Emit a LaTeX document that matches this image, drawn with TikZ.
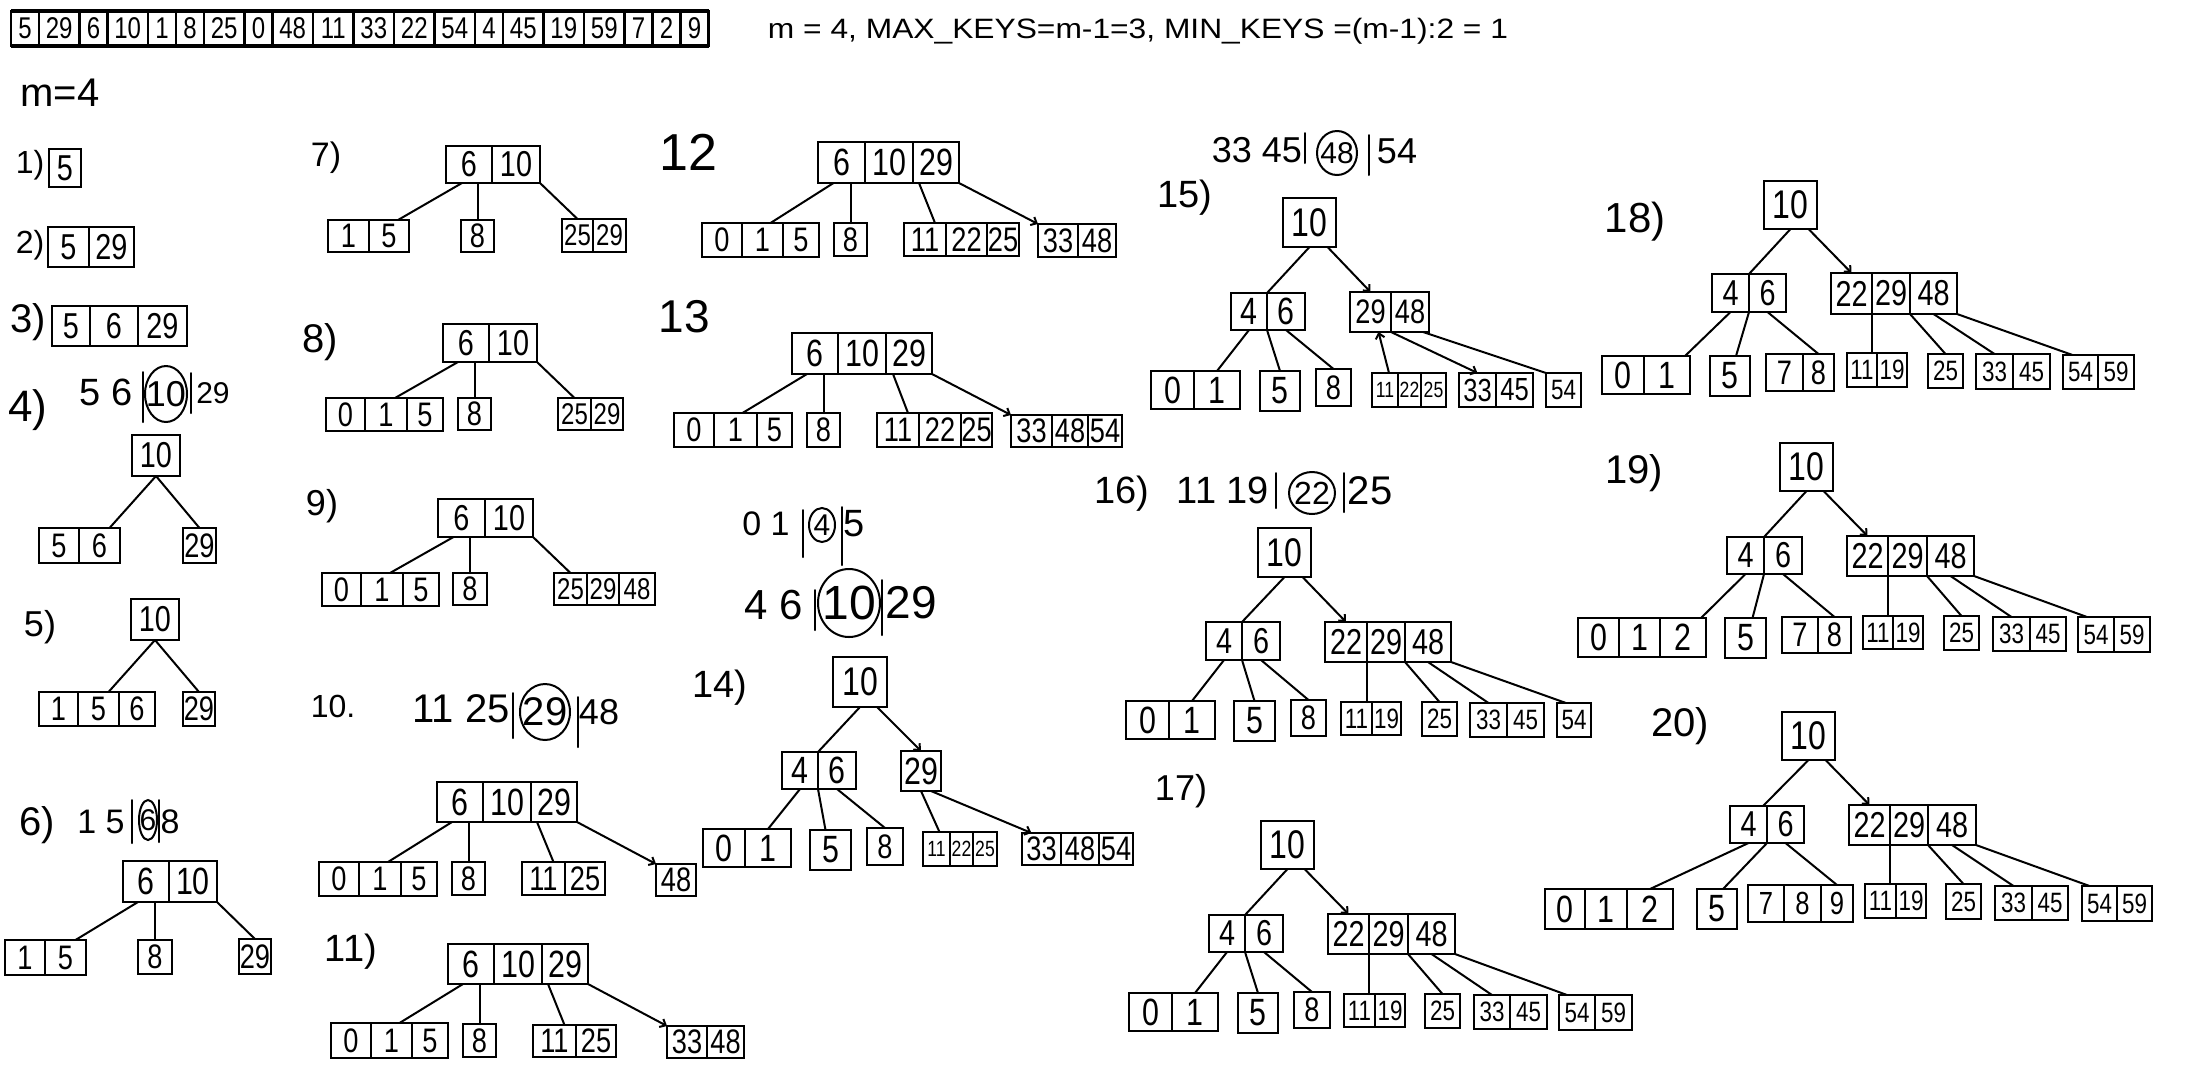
\documentclass[tikz,border=0pt]{standalone}
\usepackage{fontspec}
\setmainfont{Liberation Sans}
\usepackage{graphicx}
\usetikzlibrary{arrows.meta}
\newcommand\fsz[1]{\fontsize{#1}{#1}\selectfont}
\newcommand\sq[1]{\scalebox{0.8}[1]{#1}}
\tikzset{
  cell/.style={draw, line width=2.2pt, inner sep=0pt, outer sep=0pt, anchor=center},
  edge/.style={line width=2pt, line cap=round, line join=round},
  edgea/.style={edge, -{Straight Barb[length=5pt,width=9pt]}},
  bar/.style={line width=2pt, line cap=round},
  ann/.style={inner sep=0pt},
  lbl/.style={inner sep=0pt},
}
\newcommand\bn[5][34]{%
  \foreach \xa/\xb/\kv [count=\ci] in {#5}{%
    \node[cell,font=\fsz{#1},minimum width={(\xb-\xa)*1pt},minimum height={(#4-#3)*1pt}] (#2-\ci) at ({(\xa+\xb)/2},{(#3+#4)/2}) {\sq{\kv}};
  }}
\begin{document}
\begin{tikzpicture}[x=1pt,y=-1pt]
\fill[white] (0,0) rectangle (2200,1080);
\useasboundingbox (0,0) rectangle (2200,1080);

% header
\bn[30]{arr}{11}{46}{11/39/5,39/79.5/29,79.5/107.5/6,107.5/148/10,148/176/1,176/204/8,204/244.5/25,244.5/272.5/0,272.5/313/48,313/353.5/11,353.5/394/33,394/434.5/22,434.5/475/54,475/503/4,503/543.5/45,543.5/584/19,584/624.5/59,624.5/652.5/7,652.5/680.5/2,680.5/708.5/9}
\draw[line width=4pt] (arr-1.north west) -- (arr-20.north east);
\draw[line width=4pt] (arr-1.south west) -- (arr-20.south east);
\node[lbl,font=\fsz{28}] (hdr) at (1138,31) {\resizebox{740pt}{\height}{m = 4, MAX\_KEYS=m-1=3, MIN\_KEYS =(m-1):2 = 1}};
\node[lbl,font=\fsz{40}] (mlbl) at (60,93) {m=4};

% step labels
\node[lbl,font=\fsz{32}] (l1) at (30,165) {1)};
\node[lbl,font=\fsz{32}] (l2) at (30,245) {2)};
\node[lbl,font=\fsz{40}] (l3) at (28,322) {3)};
\node[lbl,font=\fsz{44}] (l4) at (28,410) {4)};
\node[lbl,font=\fsz{36}] (l5) at (40,627) {5)};
\node[lbl,font=\fsz{40}] (l6) at (37,825) {6)};
\node[lbl,font=\fsz{34}] (l7) at (326,158) {7)};
\node[lbl,font=\fsz{40}] (l8) at (320,342) {8)};
\node[lbl,font=\fsz{36}] (l9) at (322,506) {9)};
\node[lbl,font=\fsz{32}] (l10) at (333,706) {10.};
\node[lbl,font=\fsz{38}] (l11) at (351,952) {11)};
\node[lbl,font=\fsz{52}] (l12) at (688,152) {12};
\node[lbl,font=\fsz{46}] (l13) at (684,317) {13};
\node[lbl,font=\fsz{38}] (l14) at (720,688) {14)};
\node[lbl,font=\fsz{38}] (l15) at (1185,198) {15)};
\node[lbl,font=\fsz{38}] (l16) at (1122,494) {16)};
\node[lbl,font=\fsz{36}] (l17) at (1181,791) {17)};
\node[lbl,font=\fsz{42}] (l18) at (1635,222) {18)};
\node[lbl,font=\fsz{40}] (l19) at (1634,473) {19)};
\node[lbl,font=\fsz{40}] (l20) at (1680,726) {20)};

% annotations
\node[ann,font=\fsz{38}] (a4l) at (106,392) {5 6};
\node[ann,font=\fsz{36}] (a4c) at (166,394) {10};
\node[ann,font=\fsz{30}] (a4r) at (213,393) {29};
\draw[bar] (a4c.center) ellipse [x radius=21pt, y radius=28pt];
\draw[bar] ([xshift=-23pt,yshift=22pt]a4c.center) -- ([xshift=-23pt,yshift=-28pt]a4c.center);
\draw[bar] ([xshift=25pt,yshift=21pt]a4c.center) -- ([xshift=25pt,yshift=-19pt]a4c.center);

\node[ann,font=\fsz{34}] (a6l) at (101,822) {1 5};
\node[ann,font=\fsz{30}] (a6c) at (148,820) {6};
\node[ann,font=\fsz{34}] (a6r) at (170,822) {8};
\draw[bar] (a6c.center) ellipse [x radius=9pt, y radius=20pt];
\draw[bar] ([xshift=-16pt,yshift=20pt]a6c.center) -- ([xshift=-16pt,yshift=-23pt]a6c.center);
\draw[bar] ([xshift=11pt,yshift=20pt]a6c.center) -- ([xshift=11pt,yshift=-22pt]a6c.center);

\node[ann,font=\fsz{40}] (a10l) at (461,709) {11 25};
\node[ann,font=\fsz{40}] (a10c) at (545,712) {29};
\node[ann,font=\fsz{36}] (a10r) at (599,712) {48};
\draw[bar] (a10c.center) ellipse [x radius=25pt, y radius=28pt];
\draw[bar] ([xshift=-32pt,yshift=19pt]a10c.center) -- ([xshift=-32pt,yshift=-26pt]a10c.center);
\draw[bar] ([xshift=33pt,yshift=15pt]a10c.center) -- ([xshift=33pt,yshift=-35pt]a10c.center);

\node[ann,font=\fsz{34}] (a14al) at (766,524) {0 1};
\node[ann,font=\fsz{30}] (a14ac) at (822,525) {4};
\node[ann,font=\fsz{38}] (a14ar) at (854,524) {5};
\draw[bar] (a14ac.center) ellipse [x radius=13pt, y radius=17pt];
\draw[bar] ([xshift=-19pt,yshift=15pt]a14ac.center) -- ([xshift=-19pt,yshift=-32pt]a14ac.center);
\draw[bar] ([xshift=20pt,yshift=18pt]a14ac.center) -- ([xshift=20pt,yshift=-40pt]a14ac.center);

\node[ann,font=\fsz{42}] (a14bl) at (774,605) {4 6};
\node[ann,font=\fsz{48}] (a14bc) at (849,603) {10};
\node[ann,font=\fsz{46}] (a14br) at (911,603) {29};
\draw[bar] (a14bc.center) ellipse [x radius=31pt, y radius=34pt];
\draw[bar] ([xshift=-34pt,yshift=13pt]a14bc.center) -- ([xshift=-34pt,yshift=-27pt]a14bc.center);
\draw[bar] ([xshift=33pt,yshift=23pt]a14bc.center) -- ([xshift=33pt,yshift=-32pt]a14bc.center);

\node[ann,font=\fsz{36}] (a15l) at (1257,150) {33 45};
\node[ann,font=\fsz{30}] (a15c) at (1337,153) {48};
\node[ann,font=\fsz{36}] (a15r) at (1397,151) {54};
\draw[bar] (a15c.center) ellipse [x radius=20pt, y radius=22pt];
\draw[bar] ([xshift=-32pt,yshift=20pt]a15c.center) -- ([xshift=-32pt,yshift=-10pt]a15c.center);
\draw[bar] ([xshift=32pt,yshift=18pt]a15c.center) -- ([xshift=32pt,yshift=-22pt]a15c.center);

\node[ann,font=\fsz{38}] (a16l) at (1223,490) {11 19};
\node[ann,font=\fsz{32}] (a16c) at (1312,493) {22};
\node[ann,font=\fsz{40}] (a16r) at (1370,491) {25};
\draw[bar] (a16c.center) ellipse [x radius=23pt, y radius=21pt];
\draw[bar] ([xshift=-36pt,yshift=20pt]a16c.center) -- ([xshift=-36pt,yshift=-15pt]a16c.center);
\draw[bar] ([xshift=32pt,yshift=20pt]a16c.center) -- ([xshift=32pt,yshift=-19pt]a16c.center);

% steps 1-3
\bn[36]{s1}{149}{187}{49/81/5}
\bn[36]{s2}{227}{267}{48/89/5,89/134/29}
\bn[36]{s3}{306}{346}{52/90/5,90/138/6,138/187/29}
% 4
\bn[36]{s4r}{435}{476}{132/180/10}
\bn{s4a}{528}{563}{39/79/5,79/120/6}
\bn{s4b}{528}{563}{183/216/29}
\draw[edge] (s4r-1.south) -- ([xshift=10pt]s4a-2.north);
\draw[edge] (s4r-1.south) -- (s4b-1.north);
% 5
\bn[36]{s5r}{599}{640}{131/179/10}
\bn{s5a}{692}{726}{39/78/1,78/119/5,119/155/6}
\bn{s5b}{692}{726}{183/215/29}
\draw[edge] (s5r-1.south) -- ([xshift=10pt]s5a-2.north);
\draw[edge] (s5r-1.south) -- (s5b-1.north);
% 6
\bn[38]{s6r}{861}{902}{123/169/6,169/217/10}
\bn{s6a}{940}{975}{5/45/1,45/86/5}
\bn{s6b}{940}{974}{138/172/8}
\bn{s6c}{939}{974}{239/271/29}
\draw[edge] ([xshift=-8pt]s6r-1.south) -- ([xshift=10pt]s6a-2.north);
\draw[edge] (s6b-1.north |- s6r-1.south) -- (s6b-1.north);
\draw[edge] (s6r-2.south east) -- (s6c-1.north);
% 7
\bn[36]{s7r}{146}{183}{446/492/6,492/540/10}
\bn{s7a}{220}{252}{328/369/1,369/409/5}
\bn{s7b}{220}{252}{461/494/8}
\bn[30]{s7c}{219}{252}{562/593/25,593/626/29}
\draw[edge] ([xshift=-7pt]s7r-1.south) -- ([xshift=9pt]s7a-2.north);
\draw[edge] (s7b-1.north |- s7r-1.south) -- (s7b-1.north);
\draw[edge] (s7r-2.south east) -- (s7c-1.north);
% 8
\bn[36]{s8r}{324}{362}{443/489/6,489/537/10}
\bn{s8a}{398}{431}{326/365/0,365/407/1,407/443/5}
\bn{s8b}{398}{430}{458/491/8}
\bn[30]{s8c}{398}{430}{558/591/25,591/623/29}
\draw[edge] ([xshift=-8pt]s8r-1.south) -- ([xshift=9pt]s8a-2.north);
\draw[edge] (s8b-1.north |- s8r-1.south) -- (s8b-1.north);
\draw[edge] (s8r-2.south east) -- (s8c-1.north);
% 9
\bn[36]{s9r}{499}{537}{438/485/6,485/533/10}
\bn{s9a}{573}{606}{322/361/0,361/403/1,403/439/5}
\bn{s9b}{573}{605}{453/487/8}
\bn[30]{s9c}{573}{605}{554/587/25,587/619/29,619/655/48}
\draw[edge] ([xshift=-8pt]s9r-1.south) -- ([xshift=8pt]s9a-2.north);
\draw[edge] (s9b-1.north |- s9r-1.south) -- (s9b-1.north);
\draw[edge] (s9r-2.south east) -- (s9c-1.north);
% 10
\bn[38]{s10r}{782}{822}{437/483/6,483/531/10,531/577/29}
\bn{s10a}{862}{896}{319/359/0,359/401/1,401/437/5}
\bn{s10b}{862}{895}{452/485/8}
\bn{s10c}{862}{895}{522/565/11,565/605/25}
\bn{s10d}{864}{896}{656/696/48}
\draw[edge] ([xshift=-8pt]s10r-1.south) -- ([xshift=8pt]s10a-2.north);
\draw[edge] (s10b-1.north |- s10r-1.south) -- (s10b-1.north);
\draw[edge] ([xshift=6pt]s10r-3.south west) -- ([xshift=10pt]s10c-1.north);
\draw[edgea] (s10r-3.south east) -- (s10d-1.north west);
% 11
\bn[38]{s11r}{944}{984}{448/494/6,494/542/10,542/588/29}
\bn{s11a}{1023}{1058}{331/371/0,371/412/1,412/448/5}
\bn{s11b}{1024}{1057}{463/496/8}
\bn{s11c}{1025}{1057}{533/576/11,576/616/25}
\bn{s11d}{1026}{1058}{667/707/33,707/744/48}
\draw[edge] ([xshift=-8pt]s11r-1.south) -- ([xshift=8pt]s11a-2.north);
\draw[edge] (s11b-1.north |- s11r-1.south) -- (s11b-1.north);
\draw[edge] ([xshift=6pt]s11r-3.south west) -- ([xshift=10pt]s11c-1.north);
\draw[edgea] (s11r-3.south east) -- (s11d-1.north west);
% 12
\bn[38]{s12r}{142}{183}{818/865/6,865/913/10,913/959/29}
\bn{s12a}{223}{257}{702/742/0,742/783/1,783/819/5}
\bn{s12b}{223}{256}{834/867/8}
\bn{s12c}{223}{256}{904/946/11,946/987/22,987/1019/25}
\bn{s12d}{224}{257}{1038/1078/33,1078/1116/48}
\draw[edge] ([xshift=-8pt]s12r-1.south) -- ([xshift=8pt]s12a-2.north);
\draw[edge] (s12b-1.north |- s12r-1.south) -- (s12b-1.north);
\draw[edge] ([xshift=6pt]s12r-3.south west) -- ([xshift=10pt]s12c-1.north);
\draw[edgea] (s12r-3.south east) -- (s12d-1.north west);
% 13
\bn[38]{s13r}{333}{374}{792/838/6,838/886/10,886/932/29}
\bn{s13a}{413}{447}{674/714/0,714/757/1,757/792/5}
\bn{s13b}{413}{447}{807/840/8}
\bn{s13c}{413}{447}{877/919/11,919/961/22,961/992/25}
\bn{s13d}{415}{447}{1011/1052/33,1052/1088/48,1088/1122/54}
\draw[edge] ([xshift=-8pt]s13r-1.south) -- ([xshift=7pt]s13a-2.north);
\draw[edge] (s13b-1.north |- s13r-1.south) -- (s13b-1.north);
\draw[edge] ([xshift=7pt]s13r-3.south west) -- ([xshift=10pt]s13c-1.north);
\draw[edgea] (s13r-3.south east) -- (s13d-1.north west);
% 14
\bn[40]{s14r}{657}{707}{833/887/10}
\bn[38]{s14a}{752}{789}{782/818/4,818/856/6}
\bn[38]{s14b}{751}{791}{901/941/29}
\bn[38]{s14c}{829}{867}{703/745/0,745/791/1}
\bn[38]{s14d}{830}{870}{810/851/5}
\bn{s14e}{828}{865}{867/903/8}
\bn[22]{s14f}{832}{866}{923/950/11,950/973/22,973/997/25}
\bn{s14g}{833}{865}{1022/1061/33,1061/1099/48,1099/1133/54}
\draw[edge] (s14r-1.south) -- (s14a-1.north east);
\draw[edgea] ([xshift=-10pt]s14r-1.south east) -- (s14b-1.north);
\draw[edge] (s14a-1.south) -- (s14c-2.north);
\draw[edge] (s14a-1.south east) -- ([xshift=-5pt]s14d-1.north);
\draw[edge] (s14a-2.south) -- (s14e-1.north);
\draw[edge] (s14b-1.south) -- ([xshift=3pt]s14f-1.north);
\draw[edgea] ([xshift=10pt]s14b-1.south) -- ([xshift=-10pt]s14g-1.north);
% 15
\bn[40]{s15r}{198}{247}{1283/1336/10}
\bn[38]{s15a}{293}{330}{1231/1267/4,1267/1305/6}
\bn[34]{s15b}{292}{332}{1350/1391/29,1391/1429/48}
\bn[38]{s15c}{371}{409}{1151/1194/0,1194/1240/1}
\bn[38]{s15d}{371}{411}{1260/1300/5}
\bn{s15e}{369}{406}{1316/1351/8}
\bn[22]{s15f}{373}{407}{1372/1398/11,1398/1421/22,1421/1446/25}
\bn[32]{s15g}{373}{407}{1459/1496/33,1496/1533/45}
\bn[28]{s15h}{373}{407}{1546/1581/54}
\draw[edge] (s15r-1.south) -- (s15a-1.north east);
\draw[edgea] ([xshift=18pt]s15r-1.south) -- (s15b-1.north);
\draw[edge] (s15a-1.south) -- (s15c-2.north);
\draw[edge] (s15a-1.south east) -- (s15d-1.north);
\draw[edge] (s15a-2.south) -- (s15e-1.north);
\draw[edgea] ([xshift=4pt]s15f-1.north) -- ([xshift=8pt]s15b-1.south);
\draw[edgea] (s15b-1.south east) -- (s15g-1.north);
\draw[edge] ([xshift=-6pt]s15b-2.south east) -- (s15h-1.north west);
% 16
\bn[40]{s16r}{528}{577}{1258/1311/10}
\bn[36]{s16a}{622}{660}{1206/1242/4,1242/1280/6}
\bn[36]{s16b}{622}{662}{1325/1367/22,1367/1405/29,1405/1451/48}
\bn[38]{s16c}{701}{739}{1126/1169/0,1169/1215/1}
\bn[38]{s16d}{701}{741}{1234/1275/5}
\bn{s16e}{700}{736}{1291/1326/8}
\bn[28]{s16f}{702}{735}{1341/1372/11,1372/1401/19}
\bn[28]{s16g}{702}{736}{1422/1457/25}
\bn[28]{s16h}{703}{737}{1470/1507/33,1507/1544/45}
\bn[28]{s16i}{703}{737}{1557/1591/54}
\draw[edge] (s16r-1.south) -- (s16a-1.north east);
\draw[edgea] ([xshift=18pt]s16r-1.south) -- (s16b-1.north);
\draw[edge] (s16a-1.south) -- (s16c-2.north);
\draw[edge] (s16a-1.south east) -- (s16d-1.north);
\draw[edge] (s16a-2.south) -- (s16e-1.north);
\draw[edge] (s16b-1.south east) -- (s16b-1.south east |- s16f-1.north);
\draw[edge] (s16b-2.south east) -- (s16g-1.north);
\draw[edge] (s16b-3.south) -- (s16h-1.north);
\draw[edge] (s16b-3.south east) -- ([xshift=-8pt]s16i-1.north);
% 17
\bn[40]{s17r}{821}{869}{1261/1314/10}
\bn[36]{s17a}{915}{952}{1209/1245/4,1245/1283/6}
\bn[36]{s17b}{914}{954}{1328/1369/22,1369/1408/29,1408/1455/48}
\bn[38]{s17c}{993}{1031}{1129/1172/0,1172/1218/1}
\bn[38]{s17d}{993}{1033}{1238/1278/5}
\bn{s17e}{992}{1028}{1294/1330/8}
\bn[28]{s17f}{994}{1027}{1344/1375/11,1375/1405/19}
\bn[28]{s17g}{994}{1028}{1425/1460/25}
\bn[28]{s17h}{995}{1029}{1474/1510/33,1510/1547/45}
\bn[28]{s17i}{995}{1030}{1559/1595/54,1595/1632/59}
\draw[edge] (s17r-1.south) -- (s17a-1.north east);
\draw[edgea] ([xshift=17pt]s17r-1.south) -- (s17b-1.north);
\draw[edge] (s17a-1.south) -- (s17c-2.north);
\draw[edge] (s17a-1.south east) -- (s17d-1.north);
\draw[edge] (s17a-2.south) -- (s17e-1.north);
\draw[edge] (s17b-1.south east) -- (s17b-1.south east |- s17f-1.north);
\draw[edge] (s17b-2.south east) -- (s17g-1.north);
\draw[edge] (s17b-3.south) -- (s17h-1.north);
\draw[edge] (s17b-3.south east) -- ([xshift=-10pt]s17i-1.north);
% 18
\bn[40]{s18r}{181}{229}{1764/1817/10}
\bn[36]{s18a}{274}{312}{1712/1749/4,1749/1786/6}
\bn[36]{s18b}{273}{314}{1831/1872/22,1872/1910/29,1910/1957/48}
\bn[38]{s18c}{356}{394}{1602/1644/0,1644/1690/1}
\bn[38]{s18d}{356}{396}{1710/1750/5}
\bn[34]{s18e}{354}{391}{1766/1803/7,1803/1834/8}
\bn[28]{s18f}{353}{387}{1847/1877/11,1877/1907/19}
\bn[28]{s18g}{354}{388}{1928/1963/25}
\bn[28]{s18h}{354}{389}{1976/2013/33,2013/2050/45}
\bn[28]{s18i}{355}{389}{2063/2098/54,2098/2134/59}
\draw[edge] (s18r-1.south) -- (s18a-1.north east);
\draw[edgea] ([xshift=18pt]s18r-1.south) -- (s18b-1.north);
\draw[edge] (s18a-1.south) -- ([xshift=-5pt]s18c-2.north east);
\draw[edge] (s18a-1.south east) -- ([xshift=6pt]s18d-1.north);
\draw[edge] (s18a-2.south) -- (s18e-2.north);
\draw[edge] (s18b-1.south east) -- (s18b-1.south east |- s18f-1.north);
\draw[edge] (s18b-2.south east) -- (s18g-1.north);
\draw[edge] (s18b-3.south) -- (s18h-1.north);
\draw[edge] (s18b-3.south east) -- ([xshift=-8pt]s18i-1.north);
% 19
\bn[40]{s19r}{443}{491}{1780/1833/10}
\bn[36]{s19a}{537}{574}{1727/1764/4,1764/1802/6}
\bn[36]{s19b}{536}{576}{1847/1888/22,1888/1927/29,1927/1974/48}
\bn[38]{s19c}{618}{657}{1578/1619/0,1619/1660/1,1660/1706/2}
\bn[38]{s19d}{618}{658}{1725/1766/5}
\bn[34]{s19e}{617}{653}{1782/1818/7,1818/1851/8}
\bn[28]{s19f}{616}{649}{1863/1893/11,1893/1923/19}
\bn[28]{s19g}{616}{650}{1944/1979/25}
\bn[28]{s19h}{617}{651}{1993/2030/33,2030/2066/45}
\bn[28]{s19i}{617}{652}{2078/2114/54,2114/2150/59}
\draw[edge] (s19r-1.south) -- (s19a-1.north east);
\draw[edgea] ([xshift=17pt]s19r-1.south) -- (s19b-1.north);
\draw[edge] (s19a-1.south) -- ([xshift=-5pt]s19c-3.north east);
\draw[edge] (s19a-1.south east) -- ([xshift=7pt]s19d-1.north);
\draw[edge] (s19a-2.south) -- (s19e-2.north);
\draw[edge] (s19b-1.south east) -- (s19b-1.south east |- s19f-1.north);
\draw[edge] (s19b-2.south east) -- (s19g-1.north);
\draw[edge] (s19b-3.south) -- (s19h-1.north);
\draw[edge] (s19b-3.south east) -- ([xshift=-9pt]s19i-1.north);
% 20
\bn[40]{s20r}{712}{760}{1782/1835/10}
\bn[36]{s20a}{806}{843}{1730/1767/4,1767/1804/6}
\bn[36]{s20b}{805}{845}{1849/1890/22,1890/1928/29,1928/1976/48}
\bn[38]{s20c}{889}{929}{1545/1585/0,1585/1627/1,1627/1673/2}
\bn[38]{s20d}{889}{929}{1697/1737/5}
\bn[32]{s20e}{885}{922}{1748/1784/7,1784/1821/8,1821/1853/9}
\bn[28]{s20f}{884}{918}{1865/1896/11,1896/1926/19}
\bn[28]{s20g}{884}{919}{1946/1981/25}
\bn[28]{s20h}{886}{920}{1995/2032/33,2032/2068/45}
\bn[28]{s20i}{886}{921}{2082/2117/54,2117/2152/59}
\draw[edge] (s20r-1.south) -- ([xshift=-4pt]s20a-1.north east);
\draw[edgea] ([xshift=17pt]s20r-1.south) -- (s20b-1.north);
\draw[edge] (s20a-1.south) -- (s20c-3.north);
\draw[edge] (s20a-1.south east) -- ([xshift=6pt]s20d-1.north);
\draw[edge] (s20a-2.south) -- (s20e-3.north);
\draw[edge] (s20b-1.south east) -- (s20b-1.south east |- s20f-1.north);
\draw[edge] (s20b-2.south east) -- (s20g-1.north);
\draw[edge] (s20b-3.south) -- (s20h-1.north);
\draw[edge] (s20b-3.south east) -- ([xshift=-10pt]s20i-1.north);
\end{tikzpicture}
\end{document}
